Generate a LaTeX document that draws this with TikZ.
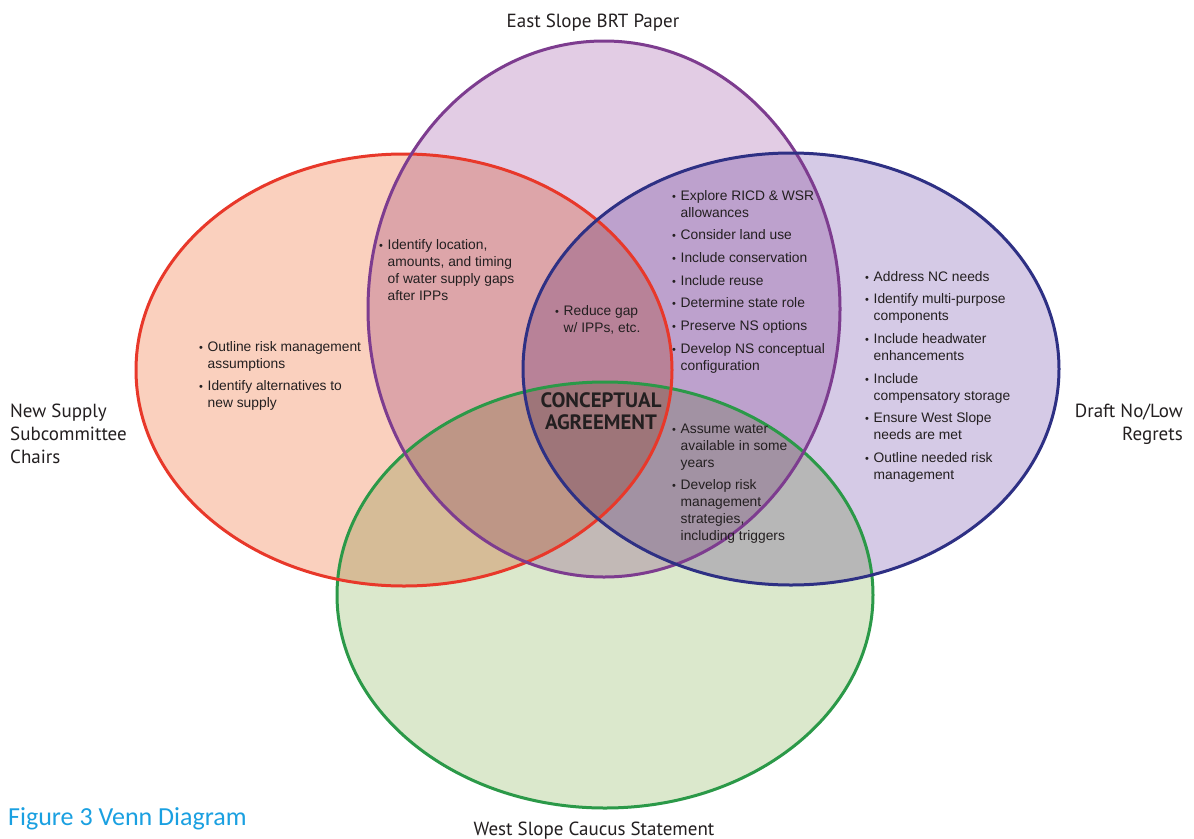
\documentclass[tikz,border=0pt]{standalone}
\usepackage{fontspec}
\setmainfont{Liberation Sans}
\newfontfamily\labelfont{PT Sans}
\newfontfamily\figfont{Carlito}
\definecolor{redfill}{RGB}{250,202,182}
\definecolor{purfill}{RGB}{223,197,225}
\definecolor{bluefill}{RGB}{208,195,227}
\definecolor{grnfill}{RGB}{215,229,197}
\definecolor{redline}{RGB}{232,56,42}
\definecolor{purline}{RGB}{125,60,143}
\definecolor{blueline}{RGB}{46,48,132}
\definecolor{grnline}{RGB}{43,153,72}
\definecolor{figblue}{RGB}{26,160,225}
\definecolor{txt}{RGB}{35,31,32}
\newcommand{\bu}{\makebox[8.5pt][l]{\fontsize{11}{11}\selectfont\textbullet}}
\begin{document}
\begin{tikzpicture}[x=1pt,y=-1pt,
  bul/.style={anchor=base west, inner sep=0pt, font=\fontsize{13.8}{17}\selectfont, text=txt},
  lab/.style={inner sep=0pt, font=\labelfont\fontsize{19}{23}\selectfont, text=txt},
  ring/.style={line width=3pt}]
\useasboundingbox (0,0) rectangle (1194,838);
\fill[white] (0,0) rectangle (1194,838);
\begin{scope}[blend mode=multiply, fill opacity=0.88]
  \fill[redfill]  (404,370) ellipse [x radius=268, y radius=216];
  \fill[purfill]  (604,309) ellipse [x radius=236, y radius=268];
  \fill[bluefill] (791,369) ellipse [x radius=268, y radius=216];
  \fill[grnfill]  (605,595) ellipse [x radius=268, y radius=213];
\end{scope}
\draw[ring, grnline]  (605,595) ellipse [x radius=268, y radius=213];
\draw[ring, redline]  (404,370) ellipse [x radius=268, y radius=216];
\draw[ring, purline]  (604,309) ellipse [x radius=236, y radius=268];
\draw[ring, blueline] (791,369) ellipse [x radius=268, y radius=216];

\node[bul] (a) at (199,351) {\begin{tabular}[t]{@{}l@{}l@{}}
\bu & Outline risk management\\ & assumptions\\[5.7pt]
\bu & Identify alternatives to\\ & new supply\end{tabular}};
\node[bul] (b) at (379,249) {\begin{tabular}[t]{@{}l@{}l@{}}
\bu & Identify location,\\ & amounts, and timing\\ & of water supply gaps\\ & after IPPs\end{tabular}};
\node[bul] (c) at (555,315) {\begin{tabular}[t]{@{}l@{}l@{}}
\bu & Reduce gap\\ & w/ IPPs, etc.\end{tabular}};
\node[bul] (d) at (672,200) {\begin{tabular}[t]{@{}l@{}l@{}}
\bu & Explore RICD \& WSR\\ & allowances\\[5.7pt]
\bu & Consider land use\\[5.7pt]
\bu & Include conservation\\[5.7pt]
\bu & Include reuse\\[5.7pt]
\bu & Determine state role\\[5.7pt]
\bu & Preserve NS options\\[5.7pt]
\bu & Develop NS conceptual\\ & configuration\end{tabular}};
\node[bul] (e) at (865,281) {\begin{tabular}[t]{@{}l@{}l@{}}
\bu & Address NC needs\\[5.7pt]
\bu & Identify multi-purpose\\ & components\\[5.7pt]
\bu & Include headwater\\ & enhancements\\[5.7pt]
\bu & Include\\ & compensatory storage\\[5.7pt]
\bu & Ensure West Slope\\ & needs are met\\[5.7pt]
\bu & Outline needed risk\\ & management\end{tabular}};
\node[bul] (f) at (672,433) {\begin{tabular}[t]{@{}l@{}l@{}}
\bu & Assume water\\ & available in some\\ & years\\[5.7pt]
\bu & Develop risk\\ & management\\ & strategies,\\ & including triggers\end{tabular}};

\node[inner sep=0pt, anchor=base, font=\labelfont\bfseries\fontsize{20.8}{22}\selectfont, text=txt] (ca) at (601,407)
  {\begin{tabular}[t]{@{}c@{}}CONCEPTUAL\\AGREEMENT\end{tabular}};

\node[lab, anchor=base] (east) at (593,27) {East Slope BRT Paper};
\node[lab, anchor=base west] (new) at (10,417) {\begin{tabular}[t]{@{}l@{}}New Supply\\Subcommittee\\Chairs\end{tabular}};
\node[lab, anchor=base east] (draft) at (1183,417) {\begin{tabular}[t]{@{}r@{}}Draft No/Low\\Regrets\end{tabular}};
\node[lab, anchor=base] (west) at (594,835) {West Slope Caucus Statement};
\node[inner sep=0pt, anchor=base west, font=\figfont\fontsize{26}{30}\selectfont, text=figblue] (fig) at (8,825) {Figure 3 Venn Diagram};
\end{tikzpicture}
\end{document}
